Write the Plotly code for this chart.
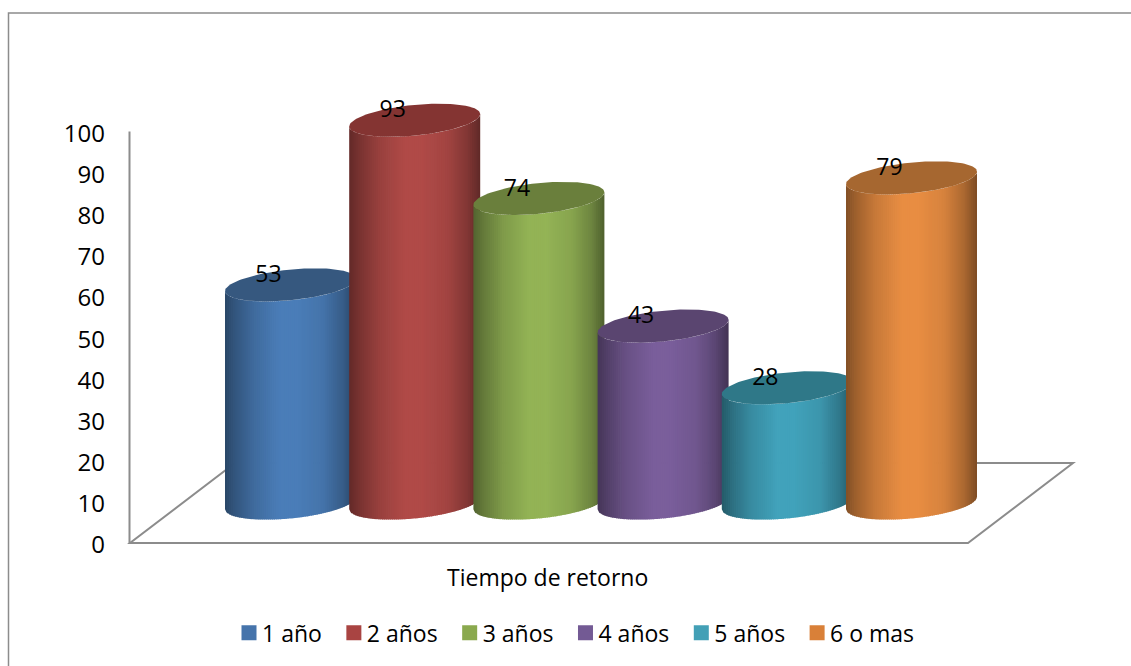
import numpy as np
import plotly.graph_objects as go

categories = ["1 año", "2 años", "3 años", "4 años", "5 años", "6 o mas"]
values = [53, 93, 74, 43, 28, 79]
y_ticks = [0, 10, 20, 30, 40, 50, 60, 70, 80, 90, 100]
body_colors = ["#4A7DB8", "#B04A47", "#93B355", "#7A5E9B", "#41A2BB", "#E88D42"]
cap_colors = ["#36587F", "#843432", "#6A7F3C", "#5A4570", "#2F7888", "#A66730"]
legend_colors = ["#4674AB", "#A94442", "#8AA94E", "#735A94", "#43A0B6", "#D98038"]
axis_title = "Tiempo de retorno"

W, H = 1131, 666
UNIT = 4.12                        # px per value unit
Y_MAX = 112                        # headroom so the tallest cap is not clipped
L, R, B = 130, 1073, 543           # plot area in page pixels
T = B - UNIT * Y_MAX
AXIS_TOP = B - UNIT * 100
STEP = 124.2                       # px per category
X0 = 290.5                         # px of first category
x_range = [(L - X0) / STEP, (R - X0) / STEP]

radius = 65.5 / STEP
tilt = 6.2 / UNIT
minor = 15.4 / UNIT
base_level = (B - 503) / UNIT
FS = 24
FONT = "Open Sans"
GRAY = "#8C8C8C"

shade_u = [-1, -0.85, -0.55, -0.15, 0.1, 0.5, 0.8, 1]
shade_k = [0.56, 0.68, 0.86, 1.0, 1.0, 0.92, 0.74, 0.54]


def shaded(hex_color, k):
    r, g, b = [int(hex_color[i:i + 2], 16) for i in (1, 3, 5)]
    return f"rgb({r * k:.0f},{g * k:.0f},{b * k:.0f})"


def px(x):
    return (x - L) / (R - L)


def py(y):
    return (B - y) / (B - T)


fig = go.Figure()

bands = 64
edges = np.linspace(-1, 1, bands + 1)
for i, (val, col, cap) in enumerate(zip(values, body_colors, cap_colors)):
    for j in range(bands):
        u0, u1 = edges[j], min(1.0, edges[j + 1] + 0.012)
        u = np.linspace(u0, u1, 5)
        low = base_level + tilt * u - minor * np.sqrt(np.clip(1 - u ** 2, 0, 1))
        xs = np.concatenate([i + radius * u, (i + radius * u)[::-1]])
        ys = np.concatenate([low, (low + val)[::-1]])
        k = float(np.interp((u0 + edges[j + 1]) / 2, shade_u, shade_k))
        fig.add_trace(go.Scatter(
            x=xs, y=ys, mode="lines", fill="toself", line=dict(width=0),
            fillcolor=shaded(col, k), showlegend=False, hoverinfo="skip"))
    t = np.linspace(0, 2 * np.pi, 121)
    fig.add_trace(go.Scatter(
        x=i + radius * np.cos(t),
        y=base_level + val + tilt * np.cos(t) + minor * np.sin(t),
        mode="lines", fill="toself", line=dict(width=0), fillcolor=cap,
        showlegend=False, hoverinfo="skip"))

fig.add_trace(go.Scatter(
    x=[i - 22 / STEP for i in range(len(values))],
    y=[base_level + v + 2.1 for v in values],
    mode="text", text=[str(v) for v in values], textposition="middle center",
    textfont=dict(family=FONT, size=23, color="black"),
    showlegend=False, hoverinfo="skip", cliponaxis=False))

for name, col in zip(categories, legend_colors):
    fig.add_trace(go.Scatter(
        x=[None], y=[None], mode="markers", name=name,
        marker=dict(symbol="square", size=15, color=col, line=dict(width=0))))

floor = [(130, B), (968, B), (1073, 463), (235, 463), (130, B)]
path = "M " + " L ".join(f"{px(a):.5f},{py(b):.5f}" for a, b in floor) + " Z"
shapes = [
    dict(type="path", path=path, xref="paper", yref="paper",
         line=dict(color=GRAY, width=2), layer="below"),
    dict(type="line", xref="paper", yref="paper", x0=px(129.5), x1=px(129.5),
         y0=py(B + 1), y1=py(AXIS_TOP), line=dict(color=GRAY, width=2), layer="below"),
    dict(type="path", xref="paper", yref="paper",
         path=f"M {px(8.5):.5f},{py(666):.5f} L {px(8.5):.5f},{py(12.5):.5f} L {px(1131):.5f},{py(12.5):.5f}",
         line=dict(color=GRAY, width=1.5), layer="below"),
]

fig.update_layout(
    width=W, height=H,
    margin=dict(l=L, r=W - R, t=T, b=H - B, pad=0),
    paper_bgcolor="white", plot_bgcolor="white",
    font=dict(family=FONT, size=FS, color="black"),
    showlegend=True,
    legend=dict(orientation="h", x=px(229), xanchor="left", y=py(633), yanchor="middle",
                font=dict(family=FONT, size=23, color="black"), bgcolor="rgba(0,0,0,0)",
                itemsizing="trace", traceorder="normal"),
    xaxis=dict(range=x_range, visible=False, fixedrange=True),
    yaxis=dict(range=[0, Y_MAX], tickvals=y_ticks, ticks="", showgrid=False, zeroline=False,
               showline=False, ticklabelstandoff=24, ticklabelshift=2,
               tickfont=dict(family=FONT, size=FS, color="black"), fixedrange=True),
    shapes=shapes,
    annotations=[dict(text=axis_title, xref="paper", yref="paper", x=px(547), y=py(577),
                      xanchor="center", yanchor="middle", showarrow=False,
                      font=dict(family=FONT, size=23, color="black"))],
)

fig.write_html("out.html", config={"displayModeBar": False},
               post_script="document.body.style.margin='0';document.body.style.overflow='hidden';"
                           "document.querySelectorAll('.legendtext').forEach(function(t){"
                           "t.setAttribute('x', parseFloat(t.getAttribute('x')) - 7);});")
